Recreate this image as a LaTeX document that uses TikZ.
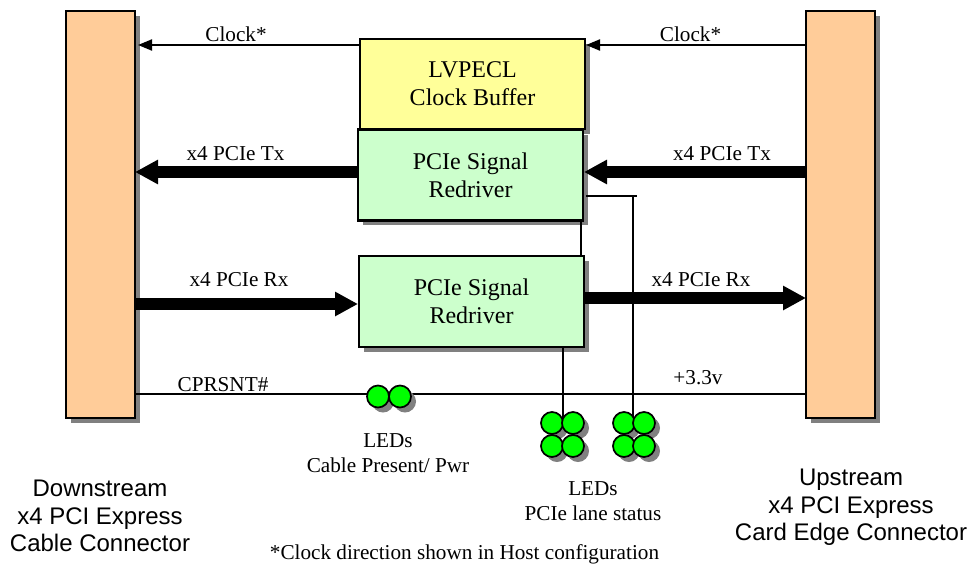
\documentclass[tikz,border=0pt]{standalone}
\usepackage{fontspec}
\setmainfont{Liberation Serif}
\newfontfamily\capfont{Liberation Sans}
\usetikzlibrary{arrows.meta,shadows}
\definecolor{connOrange}{HTML}{FFCC99}
\definecolor{bufYellow}{HTML}{FFFF99}
\definecolor{drvGreen}{HTML}{CCFFCC}
\definecolor{ledGreen}{HTML}{00FF00}
\definecolor{shadeGray}{HTML}{808080}
\tikzset{
	shade5/.style={drop shadow={shadow xshift=3.75pt, shadow yshift=-3.75pt, fill=shadeGray, opacity=1}},
	blockbox/.style={draw, line width=1.9pt, align=center, inner sep=0pt, outer sep=0pt, font=\fontsize{18}{20.75}\selectfont, shade5},
	connbox/.style={blockbox, fill=connOrange, minimum width=51.75pt, minimum height=305.25pt},
	drvbox/.style={blockbox, fill=drvGreen, minimum width=168.75pt, minimum height=68pt},
	ledcirc/.style={circle, draw, line width=1.3pt, fill=ledGreen, minimum size=16.5pt, inner sep=0pt, shade5},
	lbl/.style={font=\fontsize{15.9}{18.75}\selectfont, inner sep=0pt, align=center},
	captxt/.style={font=\capfont\fontsize{18}{20.75}\selectfont, inner sep=0pt, align=center},
	thinwire/.style={line width=1.5pt},
	statwire/.style={line width=1.2pt},
	fatwire/.style={line width=9pt, -{Triangle[length=17.25pt,width=17.25pt]}},
	clkwire/.style={line width=1.5pt, -{Triangle[length=10.5pt,width=8.25pt]}}
}
\begin{document}
\begin{tikzpicture}[x=.75pt, y=-.75pt, line join=miter]
	\useasboundingbox (0,0) rectangle (973,568);
	\node[connbox] (down) at (100.5,214.5) {};
	\node[connbox] (up) at (840.5,214.5) {};
	\node[blockbox, fill=bufYellow, minimum width=168.75pt, minimum height=67.5pt] (clkbuf) at (472.5,84) {LVPECL\\Clock Buffer};
	\node[drvbox] (drvTx) at (470.5,175) {PCIe Signal\\Redriver};
	\node[drvbox] (drvRx) at (471.5,301.5) {PCIe Signal\\Redriver};
	\coordinate (clkLa) at (360,45);
	\coordinate (clkLb) at (138,45);
	\coordinate (clkRa) at (806,45);
	\coordinate (clkRb) at (586,45);
	\coordinate (txLa) at (358,172);
	\coordinate (txLb) at (135,172);
	\coordinate (txRa) at (806,172);
	\coordinate (txRb) at (584,172);
	\coordinate (rxLa) at (135,304);
	\coordinate (rxLb) at (358,304);
	\coordinate (rxRa) at (584,298);
	\coordinate (rxRb) at (806,298);
	\coordinate (presL) at (135,394);
	\coordinate (presR) at (806,394);
	\coordinate (linkA) at (581,220);
	\coordinate (linkB) at (581,256);
	\coordinate (statA) at (563,347);
	\coordinate (statB) at (563,423);
	\coordinate (statC) at (586,196);
	\coordinate (statD) at (637,196);
	\coordinate (statE) at (633,196);
	\coordinate (statF) at (633,423);
	\draw[clkwire] (clkLa) -- (clkLb);
	\draw[clkwire] (clkRa) -- (clkRb);
	\draw[fatwire] (txLa) -- (txLb);
	\draw[fatwire] (txRa) -- (txRb);
	\draw[fatwire] (rxLa) -- (rxLb);
	\draw[fatwire] (rxRa) -- (rxRb);
	\draw[thinwire] (presL) -- (presR);
	\draw[line width=2.2pt] (linkA) -- (linkB);
	\draw[statwire] (statA) -- (statB);
	\draw[statwire] (statC) -- (statD);
	\draw[statwire] (statE) -- (statF);
	\foreach \n/\x/\y in {ledPa/378/396.5, ledPb/400/396.5, ledAa/552/423, ledAb/573/423, ledAc/552/446, ledAd/573/446, ledBa/624/423, ledBb/644/423, ledBc/624/446, ledBd/644/446}
	\node[ledcirc] (\n) at (\x,\y) {};
	\node[lbl] (clkLtxt) at (236,34.5) {Clock*};
	\node[lbl] (clkRtxt) at (690.5,34.5) {Clock*};
	\node[lbl] (txLtxt) at (235.5,154) {x4 PCIe Tx};
	\node[lbl] (txRtxt) at (722,154) {x4 PCIe Tx};
	\node[lbl] (rxLtxt) at (239,280) {x4 PCIe Rx};
	\node[lbl] (rxRtxt) at (701,280) {x4 PCIe Rx};
	\node[lbl] (presTxt) at (223,385) {CPRSNT\#};
	\node[lbl] (pwrTxt) at (698,378) {+3.3v};
	\node[lbl] (ledPtxt) at (388,453) {LEDs\\Cable Present/ Pwr};
	\node[lbl] (ledStxt) at (593,501) {LEDs\\PCIe lane status};
	\node[lbl] (noteTxt) at (464.5,554) {*Clock direction shown in Host configuration};
	\node[captxt] (downTxt) at (100,516) {Downstream\\x4 PCI Express\\Cable Connector};
	\node[captxt] (upTxt) at (851,507.5) {Upstream\\x4 PCI Express\\Card Edge Connector};
\end{tikzpicture}
\end{document}
